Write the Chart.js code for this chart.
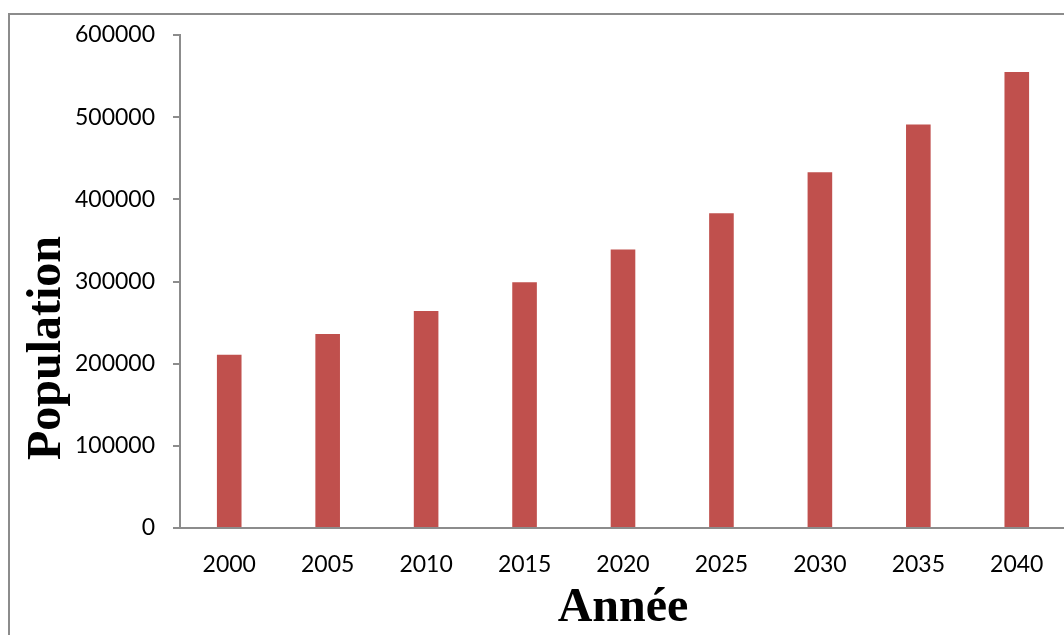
<!DOCTYPE html>
<html>
<head>
<meta charset="utf-8">
<title>Population par année</title>
<script src="https://cdn.jsdelivr.net/npm/chart.js@4"></script>
<style>
  html, body { margin: 0; padding: 0; background: #fff; overflow: hidden; }
  #frame {
    position: absolute; left: 8px; top: 13px; width: 1200px; height: 800px;
    border-left: 2px solid #8c8c8c; border-top: 2px solid #8c8c8c;
  }
  #wrap { position: absolute; left: 0; top: 0; width: 1066px; height: 635px; }
</style>
</head>
<body>
<div id="frame"></div>
<div id="wrap"><canvas id="popChart"></canvas></div>
<script>
const years = ["2000", "2005", "2010", "2015", "2020", "2025", "2030", "2035", "2040"];
const population = [211000, 236000, 264000, 299000, 339000, 383000, 433000, 491000, 555000];
const yTicks = [0, 100000, 200000, 300000, 400000, 500000, 600000];

const axisGray = "#8c8c8c";

// axis titles drawn by hand so they sit where the original puts them
const axisTitles = {
  id: "axisTitles",
  afterDraw(chart) {
    const { ctx, chartArea } = chart;
    ctx.save();
    ctx.fillStyle = "#000";
    ctx.font = 'bold 48px "Liberation Serif"';
    ctx.textAlign = "center";
    ctx.textBaseline = "alphabetic";
    ctx.fillText("Année", (chartArea.left + chartArea.right) / 2, 621);
    ctx.translate(60, chartArea.bottom - 180);
    ctx.rotate(-Math.PI / 2);
    ctx.fillText("Population", 0, 0);
    ctx.restore();
  }
};

const ctx = document.getElementById("popChart").getContext("2d");
new Chart(ctx, {
  type: "bar",
  data: {
    labels: years,
    datasets: [{
      label: "Population",
      data: population,
      backgroundColor: "#C0504D",
      categoryPercentage: 1,
      barPercentage: 0.25
    }]
  },
  options: {
    responsive: true,
    maintainAspectRatio: false,
    animation: false,
    layout: { padding: { top: 35, left: 0, right: 0, bottom: 0 } },
    plugins: {
      legend: { display: false },
      tooltip: { enabled: false }
    },
    scales: {
      x: {
        grid: { display: false },
        border: { display: true, color: axisGray, width: 2 },
        ticks: {
          color: "#000",
          font: { family: "Lato", size: 23 },
          padding: 15,
          maxRotation: 0
        },
        afterFit(scale) { scale.height = 107; }
      },
      y: {
        min: yTicks[0],
        max: yTicks[yTicks.length - 1],
        grid: {
          drawOnChartArea: false,
          drawTicks: true,
          tickLength: 7,
          color: axisGray,
          lineWidth: 2
        },
        border: { display: true, color: axisGray, width: 2 },
        ticks: {
          stepSize: yTicks[1] - yTicks[0],
          color: "#000",
          font: { family: "Lato", size: 23 },
          padding: 18,
          callback: v => String(v)
        },
        afterFit(scale) { scale.width = 180; }
      }
    }
  },
  plugins: [axisTitles]
});
</script>
</body>
</html>
